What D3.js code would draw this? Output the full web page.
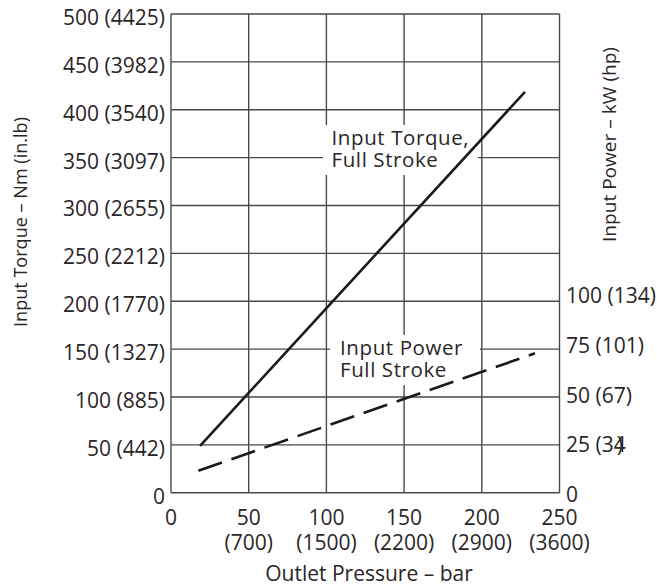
<!DOCTYPE html>
<html><head><meta charset="utf-8">
<script src="https://cdn.jsdelivr.net/npm/d3@7"></script>
<style>
body{margin:0;background:#fff;}
text{font-family:"Open Sans",sans-serif;fill:#2a2627;}
</style></head>
<body><svg id="c" width="657" height="587"></svg>
<script>
// ---- data ----
const pressureTicks = [0, 50, 100, 150, 200, 250];
const psiLabels = ["", "(700)", "(1500)", "(2200)", "(2900)", "(3600)"];
const torqueTicks = [0, 50, 100, 150, 200, 250, 300, 350, 400, 450, 500];
const inlbLabels = ["", "(442)", "(885)", "(1327)", "(1770)", "(2212)", "(2655)", "(3097)", "(3540)", "(3982)", "(4425)"];
const powerTicks = [0, 25, 50, 75, 100];
const hpLabels = ["", "(34", "(67)", "(101)", "(134)"];
const torquePressure = [18.7, 227.8];
const torqueValues = [49, 418.6];
const powerPressure = [17.6, 234.2];
const powerValues = [11.5, 72.8];

// ---- layout ----
const svg = d3.select("#c");
const L = 171, R = 559.5, T = 14, B = 492.7;
const x = d3.scaleLinear().domain([0, 250]).range([L, R]);
const yT = d3.scaleLinear().domain([0, 500]).range([B, T]);
const yP = d3.scaleLinear().domain([0, 250]).range([B, T]);
const yPLabel = d3.scaleLinear().domain([0, 100]).range([B + 9, B + 9 - 198.4]);
const gridColor = "#4a4a4a";

const g = svg.append("g");
g.selectAll("line.h").data(torqueTicks).join("line")
  .attr("x1", L).attr("x2", R).attr("y1", d => yT(d)).attr("y2", d => yT(d))
  .attr("stroke", gridColor).attr("stroke-width", 1.4);
g.selectAll("line.v").data(pressureTicks).join("line")
  .attr("y1", T).attr("y2", B).attr("x1", d => x(d)).attr("x2", d => x(d))
  .attr("stroke", gridColor).attr("stroke-width", 1.4);

// label backgrounds
svg.append("rect").attr("x", 323).attr("y", 125).attr("width", 155).attr("height", 50).attr("fill", "#fff");
svg.append("rect").attr("x", 330).attr("y", 335).attr("width", 150).attr("height", 50).attr("fill", "#fff");

// lines
const tData = torquePressure.map((p, i) => [p, torqueValues[i]]);
const pData = powerPressure.map((p, i) => [p, powerValues[i]]);
svg.append("path").datum(tData)
  .attr("d", d3.line().x(d => x(d[0])).y(d => yT(d[1])))
  .attr("fill", "none").attr("stroke", "#1a1a1a").attr("stroke-width", 2.6);
svg.append("path").datum(pData)
  .attr("d", d3.line().x(d => x(d[0])).y(d => yP(d[1])))
  .attr("fill", "none").attr("stroke", "#1a1a1a").attr("stroke-width", 2.6)
  .attr("stroke-dasharray", "25,10");

// left tick labels
svg.selectAll("text.lt").data(torqueTicks).join("text")
  .attr("x", 165).attr("y", d => yT(d) + 11).attr("text-anchor", "end")
  .attr("font-size", 21)
  .text((d, i) => inlbLabels[i] ? d + " " + inlbLabels[i] : d);

// right tick labels
const rt = svg.selectAll("text.rt").data(powerTicks).join("text")
  .attr("x", 566).attr("y", d => yPLabel(d)).attr("font-size", 21)
  .text((d, i) => hpLabels[i] ? d + " " + hpLabels[i] : d);
rt.filter((d, i) => hpLabels[i] === "(34").append("tspan").attr("dx", -9).text(")");

// bottom tick labels (two lines in one text)
const bt = svg.selectAll("text.bt").data(pressureTicks).join("text")
  .attr("text-anchor", "middle").attr("font-size", 21);
bt.append("tspan").attr("x", d => x(d)).attr("y", 525).text(d => d);
bt.filter((d, i) => psiLabels[i]).append("tspan")
  .attr("x", d => x(d)).attr("y", 550).text(d => psiLabels[pressureTicks.indexOf(d)]);

// axis titles
svg.append("text").attr("x", 369).attr("y", 581).attr("text-anchor", "middle").attr("font-size", 21)
  .text("Outlet Pressure – bar");
svg.append("text").attr("transform", "translate(27,222) rotate(-90)").attr("text-anchor", "middle")
  .attr("font-size", 19).attr("textLength", 210).attr("lengthAdjust", "spacingAndGlyphs")
  .text("Input Torque – Nm (in.lb)");
svg.append("text").attr("transform", "translate(616,144.5) rotate(-90)").attr("text-anchor", "middle")
  .attr("font-size", 19).attr("textLength", 195).attr("lengthAdjust", "spacingAndGlyphs")
  .text("Input Power – kW (hp)");

// annotations
const ann = [
  {lines: ["Input Torque,", "Full Stroke"], x: 331.5, y: 145},
  {lines: ["Input Power", "Full Stroke"], x: 340, y: 355}
];
ann.forEach(a => {
  const t = svg.append("text").attr("font-size", 20.5).attr("letter-spacing", 0.6);
  a.lines.forEach((s, i) => {
    t.append("tspan").attr("x", a.x).attr("y", a.y + i * 22).text(s);
  });
});
</script></body></html>
